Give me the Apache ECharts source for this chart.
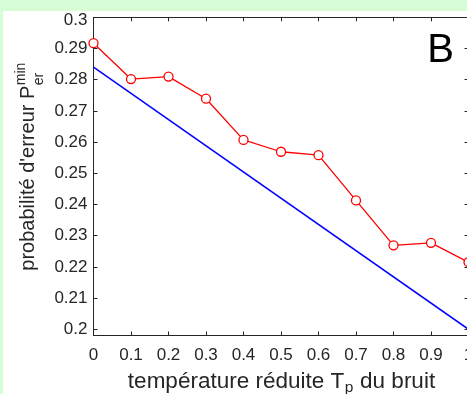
<!DOCTYPE html>
<html><head><meta charset="utf-8">
<script src="https://cdn.jsdelivr.net/npm/echarts@6/dist/echarts.min.js"></script>
<style>
html,body{margin:0;padding:0;width:467px;height:394px;background:#d6fdd6;overflow:hidden}
#w{position:absolute;left:3px;top:11px;width:464px;height:383px;background:#fff}
#c{position:absolute;left:0;top:0;width:467px;height:394px}
</style></head><body><div id="w"></div><div id="c"></div>
<script>
// ---- data ----
const tp = [0, 0.1, 0.2, 0.3, 0.4, 0.5, 0.6, 0.7, 0.8, 0.9, 1];
const perrSim = [0.2917, 0.2802, 0.2810, 0.2739, 0.2607, 0.2569, 0.2558, 0.2413, 0.2269, 0.2277, 0.2215];
const tpTheory = [0, 1];
const perrTheory = [0.284, 0.2];
const yTicks = [0.2, 0.21, 0.22, 0.23, 0.24, 0.25, 0.26, 0.27, 0.28, 0.29, 0.3];
const xTitleParts = ["température réduite T", "p", " du bruit"];
const yTitleParts = ["probabilité d'erreur P", "min", "er"];
const panelLabel = "B";

// ---- helpers ----
const FONT = '"Liberation Sans", Arial, Helvetica, sans-serif';
const TXT = '#262626';
const mctx = document.createElement('canvas').getContext('2d');
function tw(t, s) { mctx.font = s + 'px "Liberation Sans"'; return mctx.measureText(t).width; }
function seg(t, x, baseY, s, fill, align) {
  return {
    type: 'text', x: x, y: baseY - 0.31 * s,
    style: { text: t, fontSize: s, fontFamily: FONT, fill: fill || TXT,
      textAlign: align || 'left', textVerticalAlign: 'middle', align: align || 'left', verticalAlign: 'middle' }
  };
}

// x title
const xs = [22.5, 15.5, 22.5];
const xw = xTitleParts.map((t, i) => tw(t, xs[i]));
const xTot = xw[0] + xw[1] + xw[2];
const xStart = 281 - xTot / 2;
const xBase = 389;
const xTitle = [
  seg(xTitleParts[0], xStart, xBase, xs[0]),
  seg(xTitleParts[1], xStart + xw[0] + 0.5, xBase + 3.5, xs[1]),
  seg(xTitleParts[2], xStart + xw[0] + xw[1] + 1, xBase, xs[2])
];

// y title (rotated)
const yMainW = tw(yTitleParts[0], 20);
const yTitle = {
  type: 'group', x: 35, y: 270.7, rotation: Math.PI / 2,
  children: [
    seg(yTitleParts[0], 0, 0, 20),
    seg(yTitleParts[1], yMainW + 0.5, -10, 14),
    seg(yTitleParts[2], yMainW + 0.5, 8, 14)
  ]
};

const chart = echarts.init(document.getElementById('c'), null, { renderer: 'canvas' });
const axisLineStyle = { color: TXT, width: 1 };
const option = {
  animation: false,
  grid: { left: 93.5, top: 17.3, right: -1.5, bottom: 58.5, containLabel: false, outerBoundsMode: 'none' },
  xAxis: [
    { type: 'value', min: 0, max: 1, interval: 0.1, position: 'bottom',
      axisLine: { show: true, onZero: false, lineStyle: axisLineStyle },
      axisTick: { show: true, inside: true, length: 4, lineStyle: axisLineStyle },
      axisLabel: { show: true, fontSize: 17, fontFamily: FONT, color: TXT, margin: 11,
        formatter: v => String(+v.toFixed(2)) },
      splitLine: { show: false } },
    { type: 'value', min: 0, max: 1, interval: 0.1, position: 'top',
      axisLine: { show: true, onZero: false, lineStyle: axisLineStyle },
      axisTick: { show: true, inside: true, length: 4, lineStyle: axisLineStyle },
      axisLabel: { show: false }, splitLine: { show: false } }
  ],
  yAxis: [
    { type: 'value', min: 0.198, max: 0.3, position: 'left',
      axisLine: { show: true, onZero: false, lineStyle: axisLineStyle },
      axisTick: { show: true, inside: true, length: 4, lineStyle: axisLineStyle, customValues: yTicks },
      axisLabel: { show: true, fontSize: 17, fontFamily: FONT, color: TXT, margin: 6, customValues: yTicks,
        formatter: v => {
          const s = String(+(+v).toFixed(2));
          return Math.abs(v - yTicks[yTicks.length - 1]) < 1e-9 ? '{t|' + s + '}' : s;
        },
        rich: { t: { fontSize: 17, fontFamily: FONT, color: TXT, padding: [6, 0, 0, 0] } } },
      splitLine: { show: false } },
    { type: 'value', min: 0.198, max: 0.3, position: 'right',
      axisLine: { show: true, onZero: false, lineStyle: axisLineStyle },
      axisTick: { show: true, inside: true, length: 4, lineStyle: axisLineStyle, customValues: yTicks },
      axisLabel: { show: false }, splitLine: { show: false } }
  ],
  series: [
    { type: 'line', xAxisIndex: 0, yAxisIndex: 0,
      data: tpTheory.map((x, i) => [x, perrTheory[i]]),
      symbol: 'none', lineStyle: { color: '#0000ff', width: 1.5 }, z: 2 },
    { type: 'line', xAxisIndex: 0, yAxisIndex: 0,
      data: tp.map((x, i) => [x, perrSim[i]]),
      symbol: 'circle', symbolSize: 9,
      itemStyle: { color: '#ffffff', borderColor: '#ff0000', borderWidth: 1.3 },
      lineStyle: { color: '#ff0000', width: 1.3 }, z: 3 }
  ],
  graphic: [
    ...xTitle,
    yTitle,
    seg(panelLabel, 440.5, 63.3, 40, '#000000', 'center')
  ]
};
chart.setOption(option);
</script></body></html>
